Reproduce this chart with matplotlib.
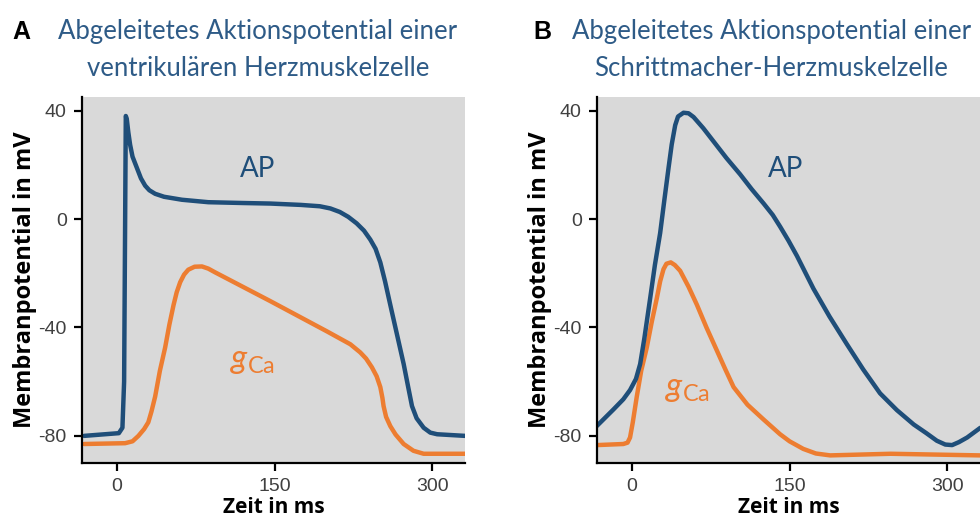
import numpy as np
import matplotlib.pyplot as plt

# Panel A: ventricular cell
tA_ap = [-31, 2, 5.4, 7, 8.6, 9.5, 11, 12.7, 15, 19, 23, 27, 31, 36.5, 45, 62, 87, 120, 146, 175, 193, 203, 212, 220, 228, 235,
         241, 246, 250.5, 255, 260, 266, 272.7, 277, 280.6, 285, 291.7, 298, 304.5, 331]
vA_ap = [-80, -79, -77, -60, 38, 37, 32, 27.4, 23, 19, 15, 12.3, 10.6, 9.3, 8.2, 7.1, 6.2, 5.9, 5.7, 5.2, 4.7, 3.9, 2.6, 0.8, -1.6, -4.3,
         -7.6, -11, -16, -23, -31.7, -42, -53.5, -62, -69, -73.5, -77, -78.8, -79.4, -80]
tA_ca = [-31, 8, 15, 20.6, 26, 30, 33, 36.5, 41, 46, 50, 54, 57, 60.3, 64, 68, 74, 81, 87, 93.6, 146, 200, 222, 231.4, 237,
         242.5, 247, 250.5, 252.5, 253.6, 256, 260, 265, 272.7, 282, 291.7, 331]
vA_ca = [-83, -82.7, -82, -80, -77.5, -75, -71, -65.5, -56, -47.4, -39, -31.7, -27, -23.3, -20.5, -18.7, -17.6, -17.5, -18.3, -19.7,
         -30.3, -41.5, -46.2, -49.2, -51.5, -54.7, -58, -62, -66, -69, -73, -76.4, -79.5, -83, -85.5, -86.6, -86.6]

# Panel B: pacemaker cell
tB_ap = [-33.3, -17.5, -8, -1.6, 4, 8, 12, 17.5, 22, 27, 31, 35, 38, 41.3, 44, 49.2, 54, 58.8, 68, 77.8, 90, 103, 114, 125.4,
         134, 141, 149, 157, 172.7, 188, 204.5, 220, 236, 252, 268, 280, 290, 298, 304.5, 311, 318.8, 331.4]
vB_ap = [-76.4, -70.3, -66.5, -63.1, -59, -53.5, -44, -29.3, -17, -5.2, 7, 18.9, 27.5, 34.6, 37.8, 39.2, 39, 37.6, 33.5, 28.6,
         22.5, 16.5, 11, 5.7, 1.5, -2.8, -8, -13.6, -25.7, -36, -46.2, -55.5, -64.3, -70.5, -75.8, -79, -81.8, -83.2, -83.4,
         -82.3, -80.6, -77]
tB_ca = [-33, -8, -4, -1.6, 1, 4.8, 9, 14.3, 19, 23.8, 27, 30.2, 33, 37.1, 41, 46, 54, 62, 71, 81, 89, 96.8, 110, 125.4, 141,
         150, 163, 175, 188.6, 246, 331]
vB_ca = [-83.4, -83, -82.5, -80.6, -75, -65.5, -56, -47.4, -38, -29.3, -23, -18.5, -16.5, -16, -17, -19.1, -25, -31.7, -40,
         -48.6, -55.5, -62, -68.5, -74, -79.4, -82, -84.8, -86.5, -87.2, -86.6, -87.2]

xticks = [0, 150, 300]
yticks = [-80, -40, 0, 40]

blue = '#1f4e79'
orange = '#ed7d31'
title_blue = '#2e5b87'
bg = '#d9d9d9'

plt.rcParams['axes.unicode_minus'] = False
plt.rcParams['mathtext.fontset'] = 'custom'
plt.rcParams['mathtext.rm'] = 'Lato'
plt.rcParams['mathtext.it'] = 'Lato:italic'

fig = plt.figure(figsize=(9.8, 5.29), dpi=100)
axA = fig.add_axes([0.0837, 0.1248, 0.3908, 0.6918])
axB = fig.add_axes([0.6092, 0.1248, 0.3908, 0.6918])

panels = [
    (axA, tA_ap, vA_ap, tA_ca, vA_ca, (134, 18.5), (129, -52)),
    (axB, tB_ap, vB_ap, tB_ca, vB_ca, (146, 18.5), (53, -62)),
]

for ax, t1, v1, t2, v2, ap_pos, ca_pos in panels:
    ax.set_facecolor(bg)
    ax.plot(t2, v2, color=orange, lw=3.2, solid_joinstyle='round', solid_capstyle='round')
    ax.plot(t1, v1, color=blue, lw=3.2, solid_joinstyle='round', solid_capstyle='round')
    ax.set_xlim(-33, 331)
    ax.set_ylim(-90, 45)
    ax.set_xticks(xticks)
    ax.set_yticks(yticks)
    ax.spines['top'].set_visible(False)
    ax.spines['right'].set_visible(False)
    ax.spines['left'].set_linewidth(1.6)
    ax.spines['bottom'].set_linewidth(1.6)
    ax.tick_params(width=1.6, length=6, labelsize=14, labelcolor='#404040', pad=5)
    for lab in ax.get_xticklabels() + ax.get_yticklabels():
        lab.set_fontfamily('Liberation Sans')
    ax.set_xlabel('Zeit in ms', fontsize=15, fontweight='bold', family='Open Sans', labelpad=1)
    ax.set_ylabel('Membranpotential in mV', fontsize=17, fontweight='bold', family='Open Sans', labelpad=1)
    ax.text(ap_pos[0], ap_pos[1], 'AP', color=blue, fontsize=20, family='Lato', ha='center', va='center')
    ax.text(ca_pos[0], ca_pos[1], r'$g_{\mathrm{Ca}}$', color=orange, fontsize=24, ha='center', va='center')

fig.text(0.022, 0.94, 'A', fontsize=18, fontweight='bold', family='Liberation Sans', ha='center', va='center')
fig.text(0.553, 0.94, 'B', fontsize=18, fontweight='bold', family='Liberation Sans', ha='center', va='center')
tkw = dict(color=title_blue, fontsize=18.5, family='Lato', ha='center', va='center')
fig.text(0.263, 0.94, 'Abgeleitetes Aktionspotential einer', **tkw)
fig.text(0.263, 0.871, 'ventrikulären Herzmuskelzelle', **tkw)
fig.text(0.787, 0.94, 'Abgeleitetes Aktionspotential einer', **tkw)
fig.text(0.787, 0.871, 'Schrittmacher-Herzmuskelzelle', **tkw)

fig.savefig('out.png', dpi=100)
